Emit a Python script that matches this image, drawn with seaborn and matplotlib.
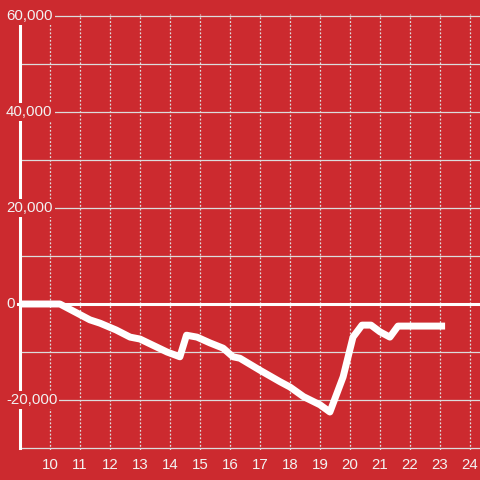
import seaborn as sns
import pandas as pd
import matplotlib.pyplot as plt

# Hour of day vs. running total
hours = [9.0, 10.33, 11.33, 11.67, 12.2, 12.67, 13.0, 13.4, 13.9, 14.33, 14.55, 14.9,
         15.33, 15.77, 16.1, 16.33, 17.0, 17.67, 18.0, 18.45, 19.0, 19.33, 19.77,
         20.1, 20.4, 20.7, 21.0, 21.33, 21.6, 23.17]
values = [0, 0, -3300, -4000, -5400, -6900, -7300, -8500, -10000, -11000, -6500, -6900,
          -8100, -9200, -11000, -11300, -13800, -16200, -17300, -19300, -21000, -22500, -15200,
          -6900, -4400, -4400, -5800, -6900, -4600, -4600]
x_ticks = list(range(10, 25))
y_labels = [60000, 40000, 20000, 0, -20000]

bg = "#cc2a2f"
grid_col = "#dcdcdc"

sns.set_style("white")
plt.rcParams["font.family"] = ["Liberation Sans", "DejaVu Sans"]

df = pd.DataFrame({"hour": hours, "value": values})

fig = plt.figure(figsize=(4.8, 4.8), dpi=100, facecolor=bg)
# axes spans pixel x 20..480, y 14..450
ax = fig.add_axes([20 / 480, 30 / 480, 460 / 480, 436 / 480], facecolor=bg)

ax.set_xlim(9, 9 + 460 / 30)
ax.set_ylim(-30000 - 2 / 48 * 10000, 60000 + 2 / 48 * 10000)

ax.set_yticks(range(-30000, 60001, 10000))
ax.set_yticklabels([])
ax.set_xticks(x_ticks)
ax.set_xticklabels([str(h) for h in x_ticks], color="#f2f2f2", fontsize=10.8)
ax.tick_params(axis="both", length=0)
ax.tick_params(axis="x", pad=6)

ax.set_axisbelow(True)
ax.grid(axis="y", color=grid_col, linewidth=0.9, linestyle="-")
ax.grid(axis="x", color=grid_col, linewidth=0.9, linestyle=(0, (1.5, 1.5)))

for side in ["top", "right", "bottom"]:
    ax.spines[side].set_visible(False)
ax.spines["left"].set_color("white")
ax.spines["left"].set_linewidth(2.2)
ax.spines["left"].set_bounds(-30000, 58300)

ax.axhline(0, xmin=-3 / 460, color="white", linewidth=2.2, clip_on=False, zorder=2)

sns.lineplot(data=df, x="hour", y="value", color="white", linewidth=5,
             solid_joinstyle="round", solid_capstyle="butt", ax=ax, zorder=4)

for v in y_labels:
    ax.text(-14 / 460, v, f"{v:,}", transform=ax.get_yaxis_transform(),
            ha="left", va="center", color="#f2f2f2", fontsize=10.8, zorder=6,
            clip_on=False,
            bbox=dict(facecolor=bg, edgecolor="none", pad=1.5))

ax.set_xlabel("")
ax.set_ylabel("")

fig.savefig("out.png", dpi=100, facecolor=bg)
